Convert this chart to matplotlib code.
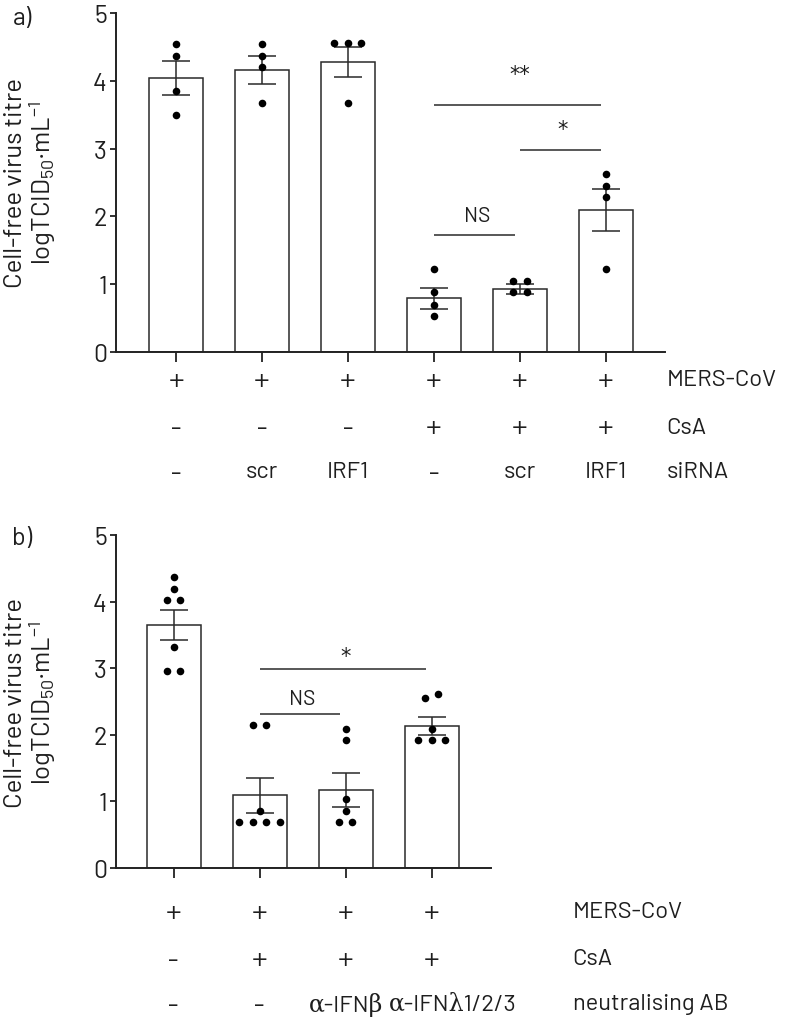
import matplotlib
matplotlib.use('Agg')
import matplotlib.pyplot as plt
import numpy as np

FONT = 'Barlow'
plt.rcParams['font.family'] = [FONT, 'DejaVu Sans']
plt.rcParams['mathtext.fontset'] = 'custom'
plt.rcParams['mathtext.rm'] = FONT
plt.rcParams['mathtext.it'] = FONT
plt.rcParams['mathtext.default'] = 'rm'

# ---------------- Panel a data ----------------
a_mers = ['+', '+', '+', '+', '+', '+']
a_csa = ['–', '–', '–', '+', '+', '+']
a_sirna = ['–', 'scr', 'IRF1', '–', 'scr', 'IRF1']
a_row_names = ['MERS-CoV', 'CsA', 'siRNA']
a_means = [4.04, 4.16, 4.28, 0.79, 0.93, 2.10]
a_sem = [0.25, 0.20, 0.22, 0.15, 0.07, 0.31]
a_points = [
    [4.54, 4.37, 3.85, 3.50],
    [4.54, 4.37, 4.21, 3.67],
    [4.56, 4.56, 4.56, 3.67],
    [1.22, 0.885, 0.70, 0.53],
    [1.04, 1.04, 0.88, 0.88],
    [2.62, 2.45, 2.28, 1.22],
]
# (bar i, bar j, line y, text y, label)
a_sig = [
    (3, 5, 3.64, 4.10, '**'),
    (4, 5, 2.98, 3.29, '*'),
    (3, 4, 1.72, 2.01, 'NS'),
]

# ---------------- Panel b data ----------------
b_mers = ['+', '+', '+', '+']
b_csa = ['–', '+', '+', '+']
b_ab = ['–', '–', 'α-IFNβ', 'α-IFNλ1/2/3']
b_row_names = ['MERS-CoV', 'CsA', 'neutralising AB']
b_means = [3.65, 1.09, 1.17, 2.13]
b_sem = [0.23, 0.26, 0.26, 0.14]
b_points = [
    [4.37, 4.19, 4.02, 4.02, 3.32, 2.96, 2.96],
    [2.15, 2.15, 0.86, 0.69, 0.69, 0.69, 0.69],
    [2.09, 1.92, 1.04, 0.86, 0.69, 0.69],
    [2.62, 2.55, 2.09, 1.92, 1.92, 1.92],
]
b_sig = [
    (1, 3, 2.99, 3.18, '*'),
    (1, 2, 2.31, 2.55, 'NS'),
]

W, H = 793, 1020
fig = plt.figure(figsize=(W / 100, H / 100), dpi=100)
axA = fig.add_axes([116 / W, 1 - 353 / H, 549 / W, 339 / H])
axB = fig.add_axes([116 / W, 1 - 869 / H, 375 / W, 333 / H])
renderer = fig.canvas.get_renderer()

EDGE = '#2a2a2a'
TXT = '#1e1e1e'


def swarm_offsets(ax, vals, x0):
    """simple beeswarm: spread points that overlap vertically"""
    to_px = ax.transData
    order = np.argsort(vals, kind='stable')[::-1]
    vals_sorted = [vals[k] for k in order]
    ypx = [to_px.transform((x0, v))[1] for v in vals_sorted]
    clusters = [[0]]
    for k in range(1, len(vals_sorted)):
        if abs(ypx[k] - ypx[k - 1]) < 9:
            clusters[-1].append(k)
        else:
            clusters.append([k])
    px_per_x = to_px.transform((1, 0))[0] - to_px.transform((0, 0))[0]
    xs, ys = [], []
    for c in clusters:
        n = len(c)
        for m, k in enumerate(c):
            off = ((n - 1) / 2 - m) * 13.5 / px_per_x
            xs.append(x0 + off)
            ys.append(vals_sorted[k])
    return xs, ys


def row_text(ax, x, yf, t, **kw):
    tr = ax.get_xaxis_transform()
    if t in ('+', '–'):
        return ax.text(x, yf, t, transform=tr, va='center', fontsize=15,
                       color=TXT, family='DejaVu Sans', clip_on=False, **kw)
    if any(g in t for g in 'αβλ'):
        return ax.text(x, yf, t, transform=tr, va='center', fontsize=17,
                       color=TXT, family=[FONT, 'DejaVu Serif'],
                       clip_on=False, **kw)
    return ax.text(x, yf, t, transform=tr, va='center', fontsize=17,
                   color=TXT, clip_on=False, **kw)


def draw_panel(ax, means, sem, points, sig, rows, row_names, row_y, xlim, name_x):
    x = np.arange(len(means))
    ax.set_xlim(*xlim)
    ax.set_ylim(0, 5)
    ax.bar(x, means, width=0.63, facecolor='white', edgecolor=EDGE,
           linewidth=1.1, zorder=2)
    ax.errorbar(x, means, yerr=sem, fmt='none', ecolor=EDGE, elinewidth=1.1,
                capsize=10, capthick=1.1, zorder=3)
    for i, vals in enumerate(points):
        xs, ys = swarm_offsets(ax, vals, x[i])
        ax.scatter(xs, ys, s=30, color='black', linewidths=0, zorder=4)
    for (i, j, ly, ty, lab) in sig:
        ax.plot([x[i], x[j] - 0.06], [ly, ly], color=EDGE, lw=1.1,
                solid_capstyle='butt', zorder=3)
        if '*' in lab:
            ax.text((x[i] + x[j]) / 2, ty, lab, ha='center', va='center',
                    fontsize=15, color=TXT, family='DejaVu Sans')
        else:
            ax.text((x[i] + x[j]) / 2, ty, lab, ha='center', va='center',
                    fontsize=15, color=TXT)
    for spine in ['top', 'right']:
        ax.spines[spine].set_visible(False)
    for spine in ['left', 'bottom']:
        ax.spines[spine].set_linewidth(1.4)
        ax.spines[spine].set_color('#222222')
    ax.set_yticks([0, 1, 2, 3, 4, 5])
    ax.tick_params(axis='y', length=4.5, width=1.3, labelsize=18, pad=2,
                   colors='#222222', labelcolor=TXT)
    ax.set_xticks(x)
    ax.set_xticklabels([])
    ax.tick_params(axis='x', length=7, width=1.3, colors='#222222')
    inv = ax.transData.inverted()
    for r, (labels, yf) in enumerate(zip(rows, row_y)):
        prev = None
        for i, t in enumerate(labels):
            txt = row_text(ax, x[i], yf, t, ha='center')
            bb = txt.get_window_extent(renderer)
            if prev is not None and bb.x0 < prev.x1 + 6:
                # avoid overlapping neighbouring labels: start after previous
                txt.set_x(inv.transform((prev.x1 + 6, 0))[0])
                txt.set_ha('left')
                bb = txt.get_window_extent(renderer)
            prev = bb
        row_text(ax, name_x, yf, row_names[r], ha='left')


draw_panel(axA, a_means, a_sem, a_points, a_sig,
           [a_mers, a_csa, a_sirna], a_row_names,
           [(353 - 381) / 339, (353 - 428) / 339, (353 - 473) / 339],
           (-0.70, 5.69), 5.71)
draw_panel(axB, b_means, b_sem, b_points, b_sig,
           [b_mers, b_csa, b_ab], b_row_names,
           [(869 - 913) / 333, (869 - 960) / 333, (869 - 1005) / 333],
           (-0.67, 3.69), 4.64)

ylab = 'Cell-free virus titre\nlogTCID$_{50}$·mL$^{-1}$'
for cy in (183, 703):
    fig.text(31 / W, 1 - cy / H, ylab, rotation=90, ha='center', va='center',
             fontsize=18.5, color=TXT, linespacing=1.05, multialignment='center')
fig.text(22 / W, 1 - 18 / H, 'a)', ha='center', va='center', fontsize=18,
         color=TXT)
fig.text(22 / W, 1 - 538 / H, 'b)', ha='center', va='center', fontsize=18,
         color=TXT)

fig.savefig('out.png', dpi=100, facecolor='white')
